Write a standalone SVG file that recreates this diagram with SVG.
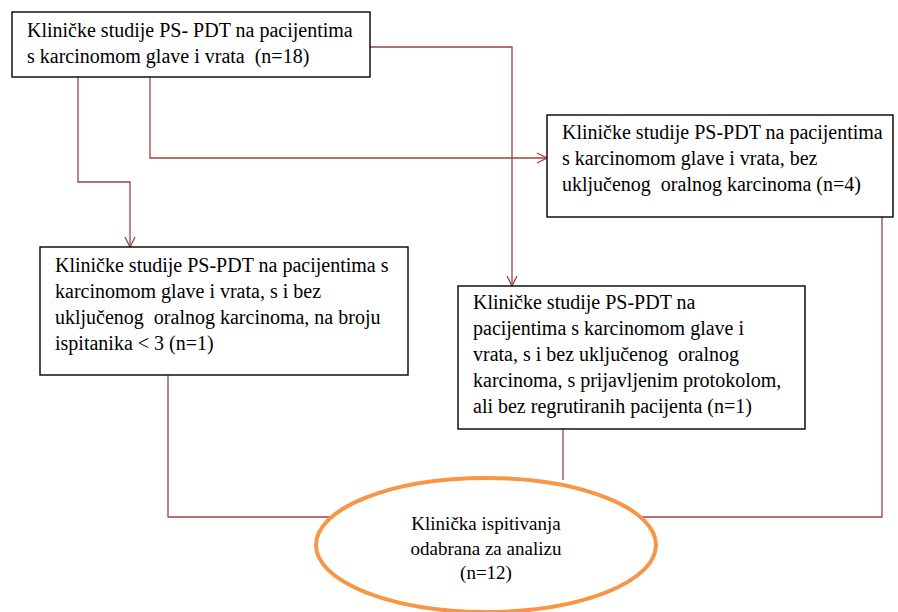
<svg xmlns="http://www.w3.org/2000/svg" width="898" height="612" viewBox="0 0 898 612">
<defs>
<style>
.box{fill:#fff;stroke:#000;stroke-width:1.4}
.t{font-family:"Liberation Serif","Times New Roman",serif;font-size:20px;fill:#000;white-space:pre}
.te{font-family:"Liberation Serif","Times New Roman",serif;font-size:19px;fill:#000;text-anchor:middle}
.c{fill:none;stroke:#A0403F;stroke-width:1.3}
</style>
<marker id="arr" viewBox="0 0 12 12" refX="11" refY="6" markerWidth="12" markerHeight="12" markerUnits="userSpaceOnUse" orient="auto">
<path d="M1,1 L11,6 L1,11" fill="none" stroke="#A0403F" stroke-width="1.3"/>
</marker>
</defs>
<rect width="898" height="612" fill="#fff"/>
<g id="connectors">
<path class="c" d="M370,47 H512 V286" marker-end="url(#arr)"/>
<path class="c" d="M78,77 V182 H130 V247" marker-end="url(#arr)"/>
<path class="c" d="M150,77 V158 H547" marker-end="url(#arr)"/>
<path class="c" d="M168,375 V517 H340"/>
<path class="c" d="M563,429 V480"/>
<path class="c" d="M882,217 V517 H640"/>
</g>
<g id="n1">
<rect class="box" x="12" y="12" width="358" height="65"/>
<text class="t" x="27" y="37" xml:space="preserve">Kliničke studije PS- PDT na pacijentima</text>
<text class="t" x="27" y="63" xml:space="preserve">s karcinomom glave i vrata  (n=18)</text>
</g>
<g id="n3">
<rect class="box" x="547" y="115" width="346" height="102"/>
<text class="t" x="562" y="139">Kliničke studije PS-PDT na pacijentima</text>
<text class="t" x="562" y="165">s karcinomom glave i vrata, bez</text>
<text class="t" x="562" y="191" xml:space="preserve">uključenog  oralnog karcinoma (n=4)</text>
</g>
<g id="n2">
<rect class="box" x="40" y="247" width="368" height="128"/>
<text class="t" x="55" y="272">Kliničke studije PS-PDT na pacijentima s</text>
<text class="t" x="55" y="298">karcinomom glave i vrata, s i bez</text>
<text class="t" x="55" y="324" xml:space="preserve">uključenog  oralnog karcinoma, na broju</text>
<text class="t" x="55" y="350">ispitanika &lt; 3 (n=1)</text>
</g>
<g id="n4">
<rect class="box" x="458" y="286" width="347" height="143"/>
<text class="t" x="473" y="309">Kliničke studije PS-PDT na</text>
<text class="t" x="473" y="335">pacijentima s karcinomom glave i</text>
<text class="t" x="473" y="361" xml:space="preserve">vrata, s i bez uključenog  oralnog</text>
<text class="t" x="473" y="387">karcinoma, s prijavljenim protokolom,</text>
<text class="t" x="473" y="413">ali bez regrutiranih pacijenta (n=1)</text>
</g>
<g id="n5">
<ellipse cx="486" cy="545" rx="170" ry="67" fill="#fff" stroke="#F79646" stroke-width="4"/>
<text class="te" x="486" y="530">Klinička ispitivanja</text>
<text class="te" x="486" y="555">odabrana za analizu</text>
<text class="te" x="486" y="579">(n=12)</text>
</g>
</svg>
